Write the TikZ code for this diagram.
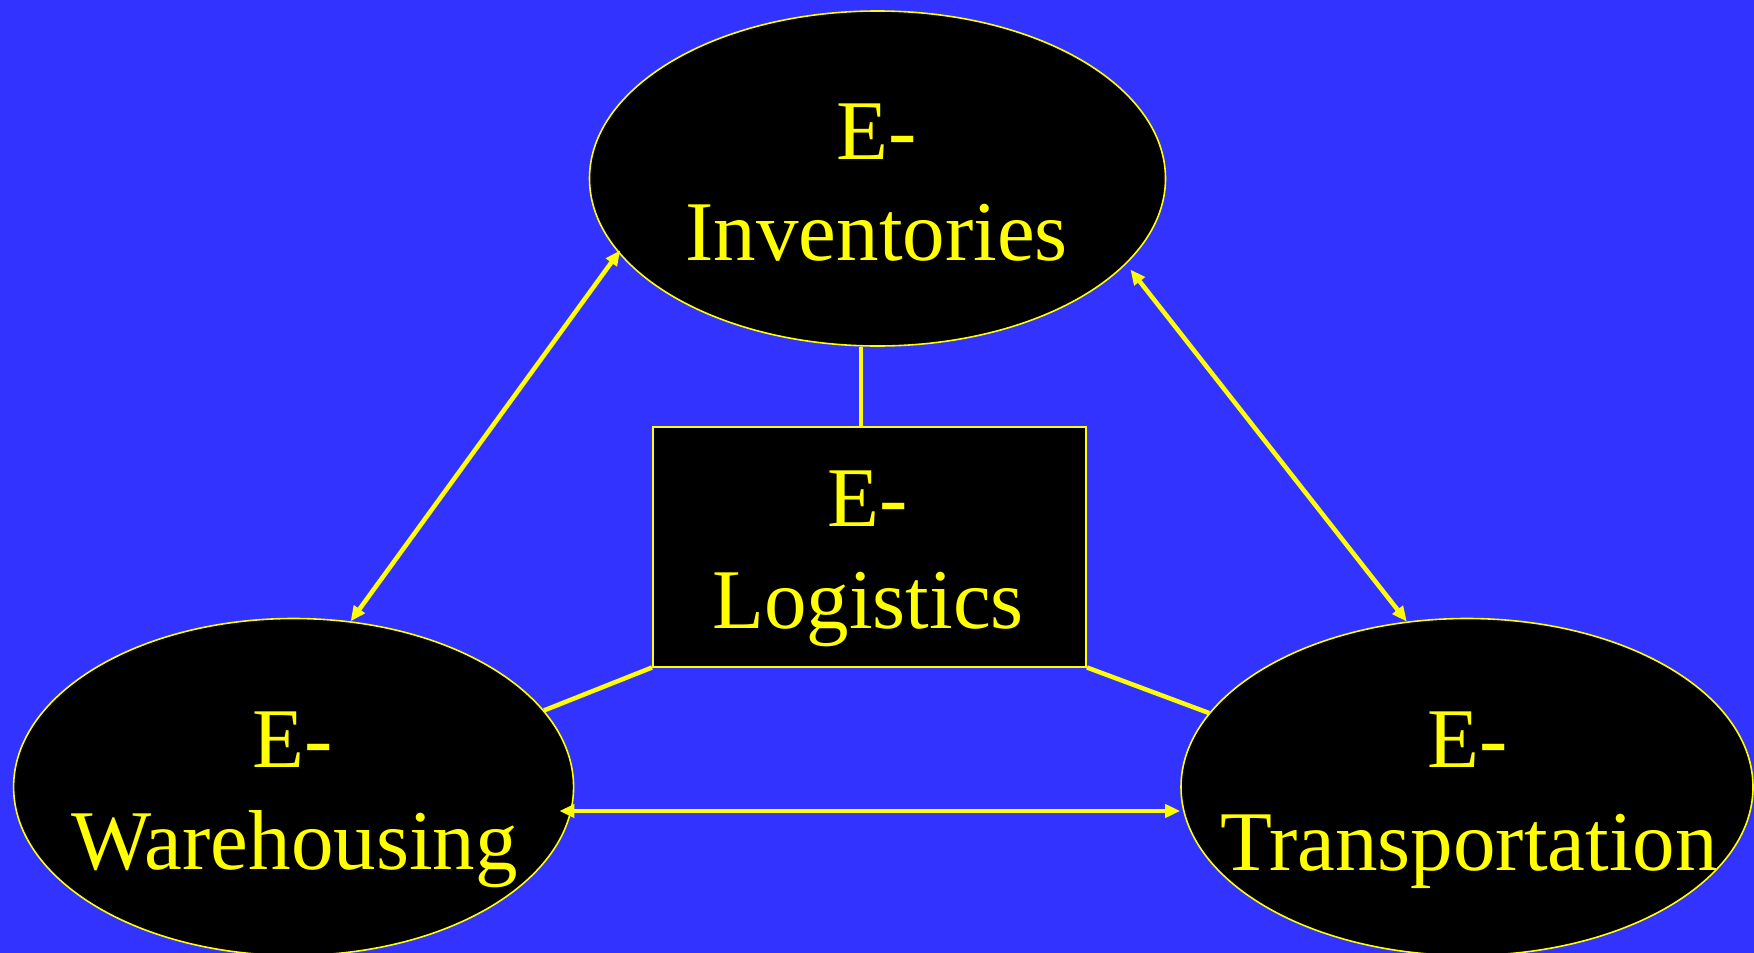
\documentclass[tikz,border=0pt]{standalone}
\usepackage{fontspec}
\setmainfont{Liberation Serif}
\usetikzlibrary{shapes.geometric,arrows.meta}
\definecolor{bgblue}{RGB}{51,51,255}
\definecolor{ylw}{RGB}{255,255,0}
\begin{document}
\begin{tikzpicture}[x=1pt,y=-1pt,
  oval/.style={ellipse, draw=ylw, line width=1.6pt, fill=black, inner sep=0pt},
  lbl/.style={text=ylw, font=\fontsize{85}{102}\selectfont, anchor=base, inner sep=0pt},
  arr/.style={draw=ylw, line width=4.5pt, {Triangle[length=15pt,width=13pt]}-{Triangle[length=15pt,width=13pt]}},
  link/.style={draw=ylw, line width=4.5pt}]
\fill[bgblue] (0,0) rectangle (1754,953);
\useasboundingbox (0,0) rectangle (1754,953);
% shapes
\node[oval, minimum width=576pt, minimum height=335pt] (inv) at (877.5,178.5) {};
\node[oval, minimum width=560pt, minimum height=337pt] (wh) at (293.6,787) {};
\node[oval, minimum width=572pt, minimum height=337pt] (tr) at (1467,787) {};
\node[draw=ylw, line width=2pt, fill=black, minimum width=433pt, minimum height=240pt, inner sep=0pt] (lg) at (869.5,546.5) {};
% links from the box
\draw[link] (lg.south west) -- (wh.17.5);
\draw[link] (lg.south east) -- (tr.164);
\draw[link] ([xshift=-8.5pt]lg.north) -- ([xshift=-8.5pt]lg.north |- inv.south);
% arrows
\draw[arr, shorten <=-3pt] (inv.196) -- (wh.71.7);
\draw[arr, shorten <=7pt] (inv.341.5) -- (tr.110);
\draw[arr, shorten <=-15pt] ([yshift=-24pt]wh.east) -- ([yshift=-24pt]tr.west);
% labels
\node[lbl] (inv1) at (876.5,159) {E-};
\node[lbl] (inv2) at (876.7,260.7) {Inventories};
\node[lbl] (lg1) at (868,526.7) {E-};
\node[lbl] (lg2) at (868,628.3) {Logistics};
\node[lbl] (wh1) at (292.5,767.3) {E-};
\node[lbl] (wh2) at (294.5,869) {Warehousing};
\node[lbl] (tr1) at (1468,767.3) {E-};
\node[lbl] (tr2) at (1469,870) {Transportation};
\end{tikzpicture}
\end{document}
